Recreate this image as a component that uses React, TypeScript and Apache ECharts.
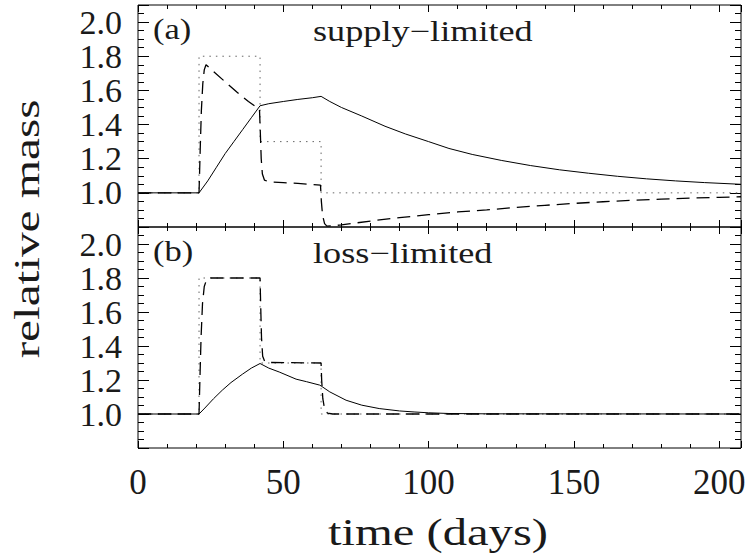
import React, { useEffect, useRef } from "react";
import * as echarts from "echarts";

// ---- data (time in days, relative mass) ----
const X_MAX = 207.5;

// step-function (dotted) – same in both panels
const stepT = [0, 21, 21, 42, 42, 63, 63, 207.5];
const stepM = [1.0, 1.0, 1.8, 1.8, 1.3, 1.3, 1.0, 1.0];

// (a) supply-limited: solid
const aSolidT = [0, 21, 24, 27, 30, 33, 36, 39, 42, 45, 50, 55, 60, 63, 66, 70, 77, 85, 92, 100, 107, 115, 125, 135, 145, 155, 165, 175, 185, 195, 207.5];
const aSolidM = [1.0, 1.0, 1.07, 1.15, 1.23, 1.3, 1.37, 1.44, 1.51, 1.522, 1.535, 1.547, 1.557, 1.565, 1.535, 1.5, 1.45, 1.39, 1.345, 1.3, 1.26, 1.225, 1.19, 1.16, 1.135, 1.115, 1.097, 1.082, 1.07, 1.06, 1.05];

// (a) supply-limited: dashed
const aDashT = [0, 21, 21.4, 21.8, 22.3, 22.8, 23.4, 26, 30, 34, 38, 41.8, 42.1, 42.4, 42.8, 43.5, 45, 50, 55, 62.8, 63.1, 63.5, 64.2, 65, 70, 80, 90, 100, 110, 120, 130, 140, 150, 160, 170, 180, 190, 200, 207.5];
const aDashM = [1.0, 1.0, 1.25, 1.48, 1.64, 1.72, 1.75, 1.71, 1.65, 1.59, 1.535, 1.49, 1.35, 1.2, 1.11, 1.075, 1.065, 1.06, 1.055, 1.045, 0.95, 0.87, 0.82, 0.805, 0.812, 0.835, 0.855, 0.872, 0.888, 0.9, 0.915, 0.927, 0.938, 0.948, 0.956, 0.963, 0.969, 0.974, 0.977];

// (b) loss-limited: solid
const bSolidT = [0, 21, 23, 26, 29, 32, 36, 39, 42, 45, 48.6, 54.4, 58, 62.5, 63, 66, 71.6, 77, 83, 90, 95, 100, 107, 120, 207.5];
const bSolidM = [1.0, 1.0, 1.035, 1.09, 1.14, 1.185, 1.235, 1.27, 1.297, 1.27, 1.247, 1.205, 1.19, 1.17, 1.165, 1.13, 1.081, 1.052, 1.032, 1.018, 1.012, 1.007, 1.003, 1.001, 1.0];

// (b) loss-limited: dashed
const bDashT = [0, 21, 21.3, 21.7, 22.2, 22.8, 23.6, 25, 42, 42.2, 42.5, 42.9, 43.6, 45, 63, 63.2, 63.6, 64.2, 65.2, 67, 207.5];
const bDashM = [1.0, 1.0, 1.2, 1.45, 1.65, 1.75, 1.79, 1.8, 1.8, 1.65, 1.45, 1.34, 1.31, 1.303, 1.3, 1.2, 1.09, 1.03, 1.005, 1.0, 1.0];

const xTickLabels = [0, 50, 100, 150, 200];
const yTickLabels = [1.0, 1.2, 1.4, 1.6, 1.8, 2.0];

const pairs = (t: number[], m: number[]) => t.map((v, i) => [v, m[i]]);

const FONT = "Liberation Serif";

export default function App() {
  const ref = useRef<HTMLDivElement>(null);

  useEffect(() => {
    if (!ref.current) return;
    const chart = echarts.init(ref.current, undefined, { renderer: "svg" });

    const grids = [
      { left: 138, top: 5, width: 603, height: 222 },
      { left: 138, top: 227, width: 603, height: 221 },
    ];

    const xAxes: any[] = [];
    const yAxes: any[] = [];
    grids.forEach((_, g) => {
      const showLabels = g === 1;
      (["bottom", "top"] as const).forEach((pos) => {
        [
          { interval: 50, len: 7 },
          { interval: 10, len: 4 },
        ].forEach((spec, k) => {
          xAxes.push({
            type: "value",
            gridIndex: g,
            position: pos,
            min: 0,
            max: X_MAX,
            interval: spec.interval,
            axisLine: { show: false, onZero: false },
            splitLine: { show: false },
            axisTick: { show: true, inside: true, length: spec.len, lineStyle: { color: "#000", width: 1 } },
            axisLabel: {
              show: showLabels && pos === "bottom" && k === 0,
              margin: 19,
              fontFamily: FONT,
              fontSize: 35,
              lineHeight: 30,
              color: "#1a1a1a",
              formatter: (v: number) => {
                const hit = xTickLabels.find((t) => Math.abs(t - v) < 1e-6);
                return hit !== undefined ? String(hit) : "";
              },
            },
          });
        });
      });
      (["left", "right"] as const).forEach((pos) => {
        [
          { interval: 0.2, len: 11 },
          { interval: 0.05, len: 6 },
        ].forEach((spec, k) => {
          yAxes.push({
            type: "value",
            gridIndex: g,
            position: pos,
            min: 0.8,
            max: 2.1,
            interval: spec.interval,
            axisLine: { show: false, onZero: false },
            splitLine: { show: false },
            axisTick: { show: true, inside: true, length: spec.len, lineStyle: { color: "#000", width: 1 } },
            axisLabel: {
              show: pos === "left" && k === 0,
              margin: 16,
              fontFamily: FONT,
              fontSize: 34,
              lineHeight: 26,
              color: "#1a1a1a",
              formatter: (v: number) => {
                const hit = yTickLabels.find((t) => Math.abs(t - v) < 1e-6);
                return hit !== undefined ? hit.toFixed(1) : "";
              },
            },
          });
        });
      });
    });

    const dotted = { color: "#666", width: 1, type: [1.5, 5] };
    const dashed = { color: "#000", width: 1.3, type: [13, 7] };
    const solid = { color: "#000", width: 1, type: "solid" };

    const mk = (name: string, data: number[][], g: number, lineStyle: any, z: number) => ({
      name,
      type: "line",
      xAxisIndex: g * 4,
      yAxisIndex: g * 4,
      data,
      showSymbol: false,
      symbol: "none",
      lineStyle,
      z,
      silent: true,
    });

    const series = [
      mk("a-step", pairs(stepT, stepM), 0, dotted, 2),
      mk("a-dash", pairs(aDashT, aDashM), 0, dashed, 3),
      mk("a-solid", pairs(aSolidT, aSolidM), 0, solid, 4),
      mk("b-step", pairs(stepT, stepM), 1, dotted, 2),
      mk("b-dash", pairs(bDashT, bDashM), 1, dashed, 3),
      mk("b-solid", pairs(bSolidT, bSolidM), 1, solid, 4),
    ];

    const txt = (text: string, x: number, y: number, size: number, sx: number, align: string, rot = 0) => ({
      type: "text",
      x,
      y,
      rotation: rot,
      scaleX: sx,
      scaleY: 1,
      silent: true,
      z: 10,
      style: {
        text,
        fill: "#1a1a1a",
        fontFamily: FONT,
        fontSize: size,
        textAlign: align,
        align,
        textVerticalAlign: "middle",
        verticalAlign: "middle",
      },
    });

    chart.setOption({
      animation: false,
      backgroundColor: "#fff",
      grid: grids.map((g) => ({ ...g, show: true, borderColor: "#000", borderWidth: 1, backgroundColor: "transparent" })),
      xAxis: xAxes,
      yAxis: yAxes,
      series,
      graphic: [
        txt("(a)", 153, 29, 30, 1.15, "left"),
        txt("supply\u2212limited", 313, 31, 29, 1.25, "left"),
        txt("(b)", 153, 251, 30, 1.15, "left"),
        txt("loss\u2212limited", 313, 253, 29, 1.25, "left"),
        txt("time (days)", 438, 532, 38, 1.28, "center"),
        txt("relative mass", 27, 229, 36, 1.37, "center", Math.PI / 2),
      ],
    });

    return () => chart.dispose();
  }, []);

  return (
    <div
      ref={ref}
      style={{ position: "fixed", left: 0, top: 0, width: 752, height: 554, background: "#fff" }}
    />
  );
}
